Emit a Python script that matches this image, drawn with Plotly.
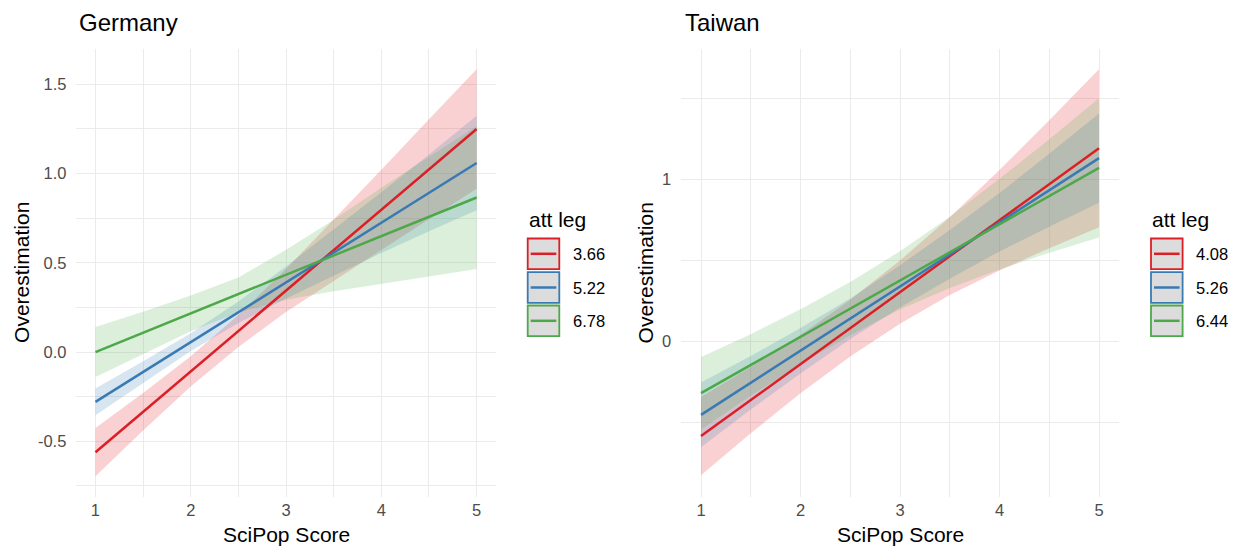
import plotly.graph_objects as go

# ---------------- data ----------------
sci_pop = [1, 1.5, 2, 2.5, 3, 3.5, 4, 4.5, 5]

de_levels = ["3.66", "5.22", "6.78"]
tw_levels = ["4.08", "5.26", "6.44"]

# Germany
de_366_fit = [-0.561, -0.335, -0.108, 0.118, 0.345, 0.571, 0.797, 1.024, 1.250]
de_366_low = [-0.696, -0.440, -0.193, 0.028, 0.225, 0.401, 0.572, 0.744, 0.915]
de_366_high = [-0.426, -0.230, -0.023, 0.208, 0.465, 0.741, 1.022, 1.304, 1.585]

de_522_fit = [-0.279, -0.112, 0.056, 0.223, 0.390, 0.557, 0.725, 0.892, 1.059]
de_522_low = [-0.354, -0.172, 0.006, 0.163, 0.300, 0.427, 0.555, 0.677, 0.794]
de_522_high = [-0.204, -0.052, 0.106, 0.283, 0.480, 0.687, 0.895, 1.107, 1.324]

de_678_fit = [0.000, 0.108, 0.217, 0.325, 0.433, 0.541, 0.650, 0.758, 0.866]
de_678_low = [-0.140, -0.010, 0.117, 0.222, 0.293, 0.341, 0.380, 0.423, 0.466]
de_678_high = [0.140, 0.226, 0.317, 0.418, 0.573, 0.741, 0.920, 1.093, 1.266]

# Taiwan
tw_408_fit = [-0.583, -0.361, -0.139, 0.083, 0.306, 0.528, 0.750, 0.972, 1.194]
tw_408_low = [-0.824, -0.566, -0.319, -0.092, 0.111, 0.288, 0.440, 0.577, 0.706]
tw_408_high = [-0.342, -0.156, 0.041, 0.258, 0.501, 0.768, 1.060, 1.367, 1.682]

tw_526_fit = [-0.452, -0.254, -0.056, 0.142, 0.341, 0.539, 0.737, 0.935, 1.133]
tw_526_low = [-0.652, -0.419, -0.196, 0.017, 0.211, 0.389, 0.557, 0.710, 0.857]
tw_526_high = [-0.252, -0.089, 0.084, 0.267, 0.471, 0.689, 0.917, 1.160, 1.409]

tw_644_fit = [-0.318, -0.144, 0.030, 0.204, 0.378, 0.551, 0.725, 0.899, 1.073]
tw_644_low = [-0.542, -0.334, -0.140, 0.039, 0.198, 0.331, 0.445, 0.549, 0.643]
tw_644_high = [-0.094, 0.046, 0.200, 0.369, 0.558, 0.771, 1.005, 1.249, 1.503]

x_ticks = [1, 2, 3, 4, 5]
x_tick_text = ["1", "2", "3", "4", "5"]
de_y_ticks = [-0.5, 0.0, 0.5, 1.0, 1.5]
de_y_tick_text = ["-0.5", "0.0", "0.5", "1.0", "1.5"]
de_y_minor = [-0.75, -0.25, 0.25, 0.75, 1.25]
tw_y_ticks = [0, 1]
tw_y_tick_text = ["0", "1"]
tw_y_minor = [-0.5, 0.5, 1.5]
x_minor = [1.5, 2.5, 3.5, 4.5]

# ---------------- styling ----------------
W, H = 1236, 546
FONT = "Liberation Sans, Arial, sans-serif"
line_colors = ["#DA1F26", "#3A7AB3", "#4DA849"]
fill_colors = ["rgba(228,26,28,0.2)", "rgba(55,126,184,0.2)", "rgba(77,175,74,0.2)"]
GRID = "#ebebeb"


def fx(p):
    return p / W


def fy(p):
    return 1 - p / H


panels = [
    dict(name="Germany", xa="x", ya="y", levels=de_levels,
         series=[(de_366_fit, de_366_low, de_366_high),
                 (de_522_fit, de_522_low, de_522_high),
                 (de_678_fit, de_678_low, de_678_high)],
         xdom=(76.4, 495.7), yrange=[-0.812, 1.699],
         yticks=de_y_ticks, yticktext=de_y_tick_text, yminor=de_y_minor,
         title_x=76.5, ytitle_x=22, leg_x=527.7),
    dict(name="Taiwan", xa="x2", ya="y2", levels=tw_levels,
         series=[(tw_408_fit, tw_408_low, tw_408_high),
                 (tw_526_fit, tw_526_low, tw_526_high),
                 (tw_644_fit, tw_644_low, tw_644_high)],
         xdom=(681.1, 1118.9), yrange=[-0.959, 1.808],
         yticks=tw_y_ticks, yticktext=tw_y_tick_text, yminor=tw_y_minor,
         title_x=683.3, ytitle_x=645.5, leg_x=1151.0),
]

PLOT_TOP, PLOT_BOTTOM = 48.8, 497.0

fig = go.Figure()
annotations = []
shapes = []

for p in panels:
    # ribbons
    for (fit, low, high), fc in zip(p["series"], fill_colors):
        fig.add_trace(go.Scatter(x=sci_pop, y=low, mode="lines", line=dict(width=0),
                                 xaxis=p["xa"], yaxis=p["ya"], showlegend=False,
                                 hoverinfo="skip"))
        fig.add_trace(go.Scatter(x=sci_pop, y=high, mode="lines", line=dict(width=0),
                                 fill="tonexty", fillcolor=fc,
                                 xaxis=p["xa"], yaxis=p["ya"], showlegend=False,
                                 hoverinfo="skip"))
    # lines
    for (fit, low, high), lc, lev in zip(p["series"], line_colors, p["levels"]):
        fig.add_trace(go.Scatter(x=sci_pop, y=fit, mode="lines",
                                 line=dict(color=lc, width=2.5),
                                 xaxis=p["xa"], yaxis=p["ya"], showlegend=False,
                                 name=lev))

    # panel title
    annotations.append(dict(text=p["name"], x=fx(p["title_x"]), y=fy(22.5), xref="paper", yref="paper",
                            xanchor="left", yanchor="middle", showarrow=False,
                            font=dict(family=FONT, size=24, color="black")))
    # y axis title
    annotations.append(dict(text="Overestimation", x=fx(p["ytitle_x"]), y=fy((PLOT_TOP + PLOT_BOTTOM) / 2),
                            xref="paper", yref="paper", xanchor="center", yanchor="middle",
                            textangle=-90, showarrow=False,
                            font=dict(family=FONT, size=21, color="black")))
    # x axis title
    annotations.append(dict(text="SciPop Score", x=fx((p["xdom"][0] + p["xdom"][1]) / 2), y=fy(534.5),
                            xref="paper", yref="paper", xanchor="center", yanchor="middle",
                            showarrow=False, font=dict(family=FONT, size=21, color="black")))

    # legend (ggplot-like keys)
    lx = p["leg_x"]
    annotations.append(dict(text="att leg", x=fx(lx - 1), y=fy(219), xref="paper", yref="paper",
                            xanchor="left", yanchor="middle", showarrow=False,
                            font=dict(family=FONT, size=21, color="black")))
    box_tops = [238.5, 272.2, 305.5]
    box_h = 30.6
    box_w = 31.6
    for top, lc, lev in zip(box_tops, line_colors, p["levels"]):
        shapes.append(dict(type="rect", xref="paper", yref="paper",
                           x0=fx(lx), x1=fx(lx + box_w), y0=fy(top + box_h), y1=fy(top),
                           fillcolor="#dcdcdc", line=dict(color=lc, width=1.8), layer="above"))
        shapes.append(dict(type="line", xref="paper", yref="paper",
                           x0=fx(lx + 3), x1=fx(lx + box_w - 3),
                           y0=fy(top + box_h / 2), y1=fy(top + box_h / 2),
                           line=dict(color=lc, width=2.5), layer="above"))
        annotations.append(dict(text=lev, x=fx(lx + 43), y=fy(top + box_h / 2),
                                xref="paper", yref="paper", xanchor="left", yanchor="middle",
                                showarrow=False, font=dict(family=FONT, size=16.5, color="black")))

axis_common = dict(showline=False, zeroline=False, ticks="", showgrid=True,
                   gridcolor=GRID, gridwidth=1.3,
                   tickfont=dict(family=FONT, size=16.5, color="#4d4d4d"))

layout = dict(
    width=W, height=H, margin=dict(l=0, r=0, t=0, b=0),
    paper_bgcolor="white", plot_bgcolor="white",
    showlegend=False, annotations=annotations, shapes=shapes,
)

for i, p in enumerate(panels):
    sx = "" if i == 0 else str(i + 1)
    layout["xaxis" + sx] = dict(
        axis_common, domain=[fx(p["xdom"][0]), fx(p["xdom"][1])], range=[0.8, 5.2],
        tickmode="array", tickvals=x_ticks, ticktext=x_tick_text, anchor="y" + sx,
        ticklabelstandoff=1,
        minor=dict(tickmode="array", tickvals=x_minor, showgrid=True, gridcolor=GRID, gridwidth=0.7),
    )
    layout["yaxis" + sx] = dict(
        axis_common, domain=[fy(PLOT_BOTTOM), fy(PLOT_TOP)], range=p["yrange"],
        tickmode="array", tickvals=p["yticks"], ticktext=p["yticktext"], anchor="x" + sx,
        ticklabelstandoff=9,
        minor=dict(tickmode="array", tickvals=p["yminor"], showgrid=True, gridcolor=GRID, gridwidth=0.7),
    )

fig.update_layout(**layout)
fig.write_html("out.html")
